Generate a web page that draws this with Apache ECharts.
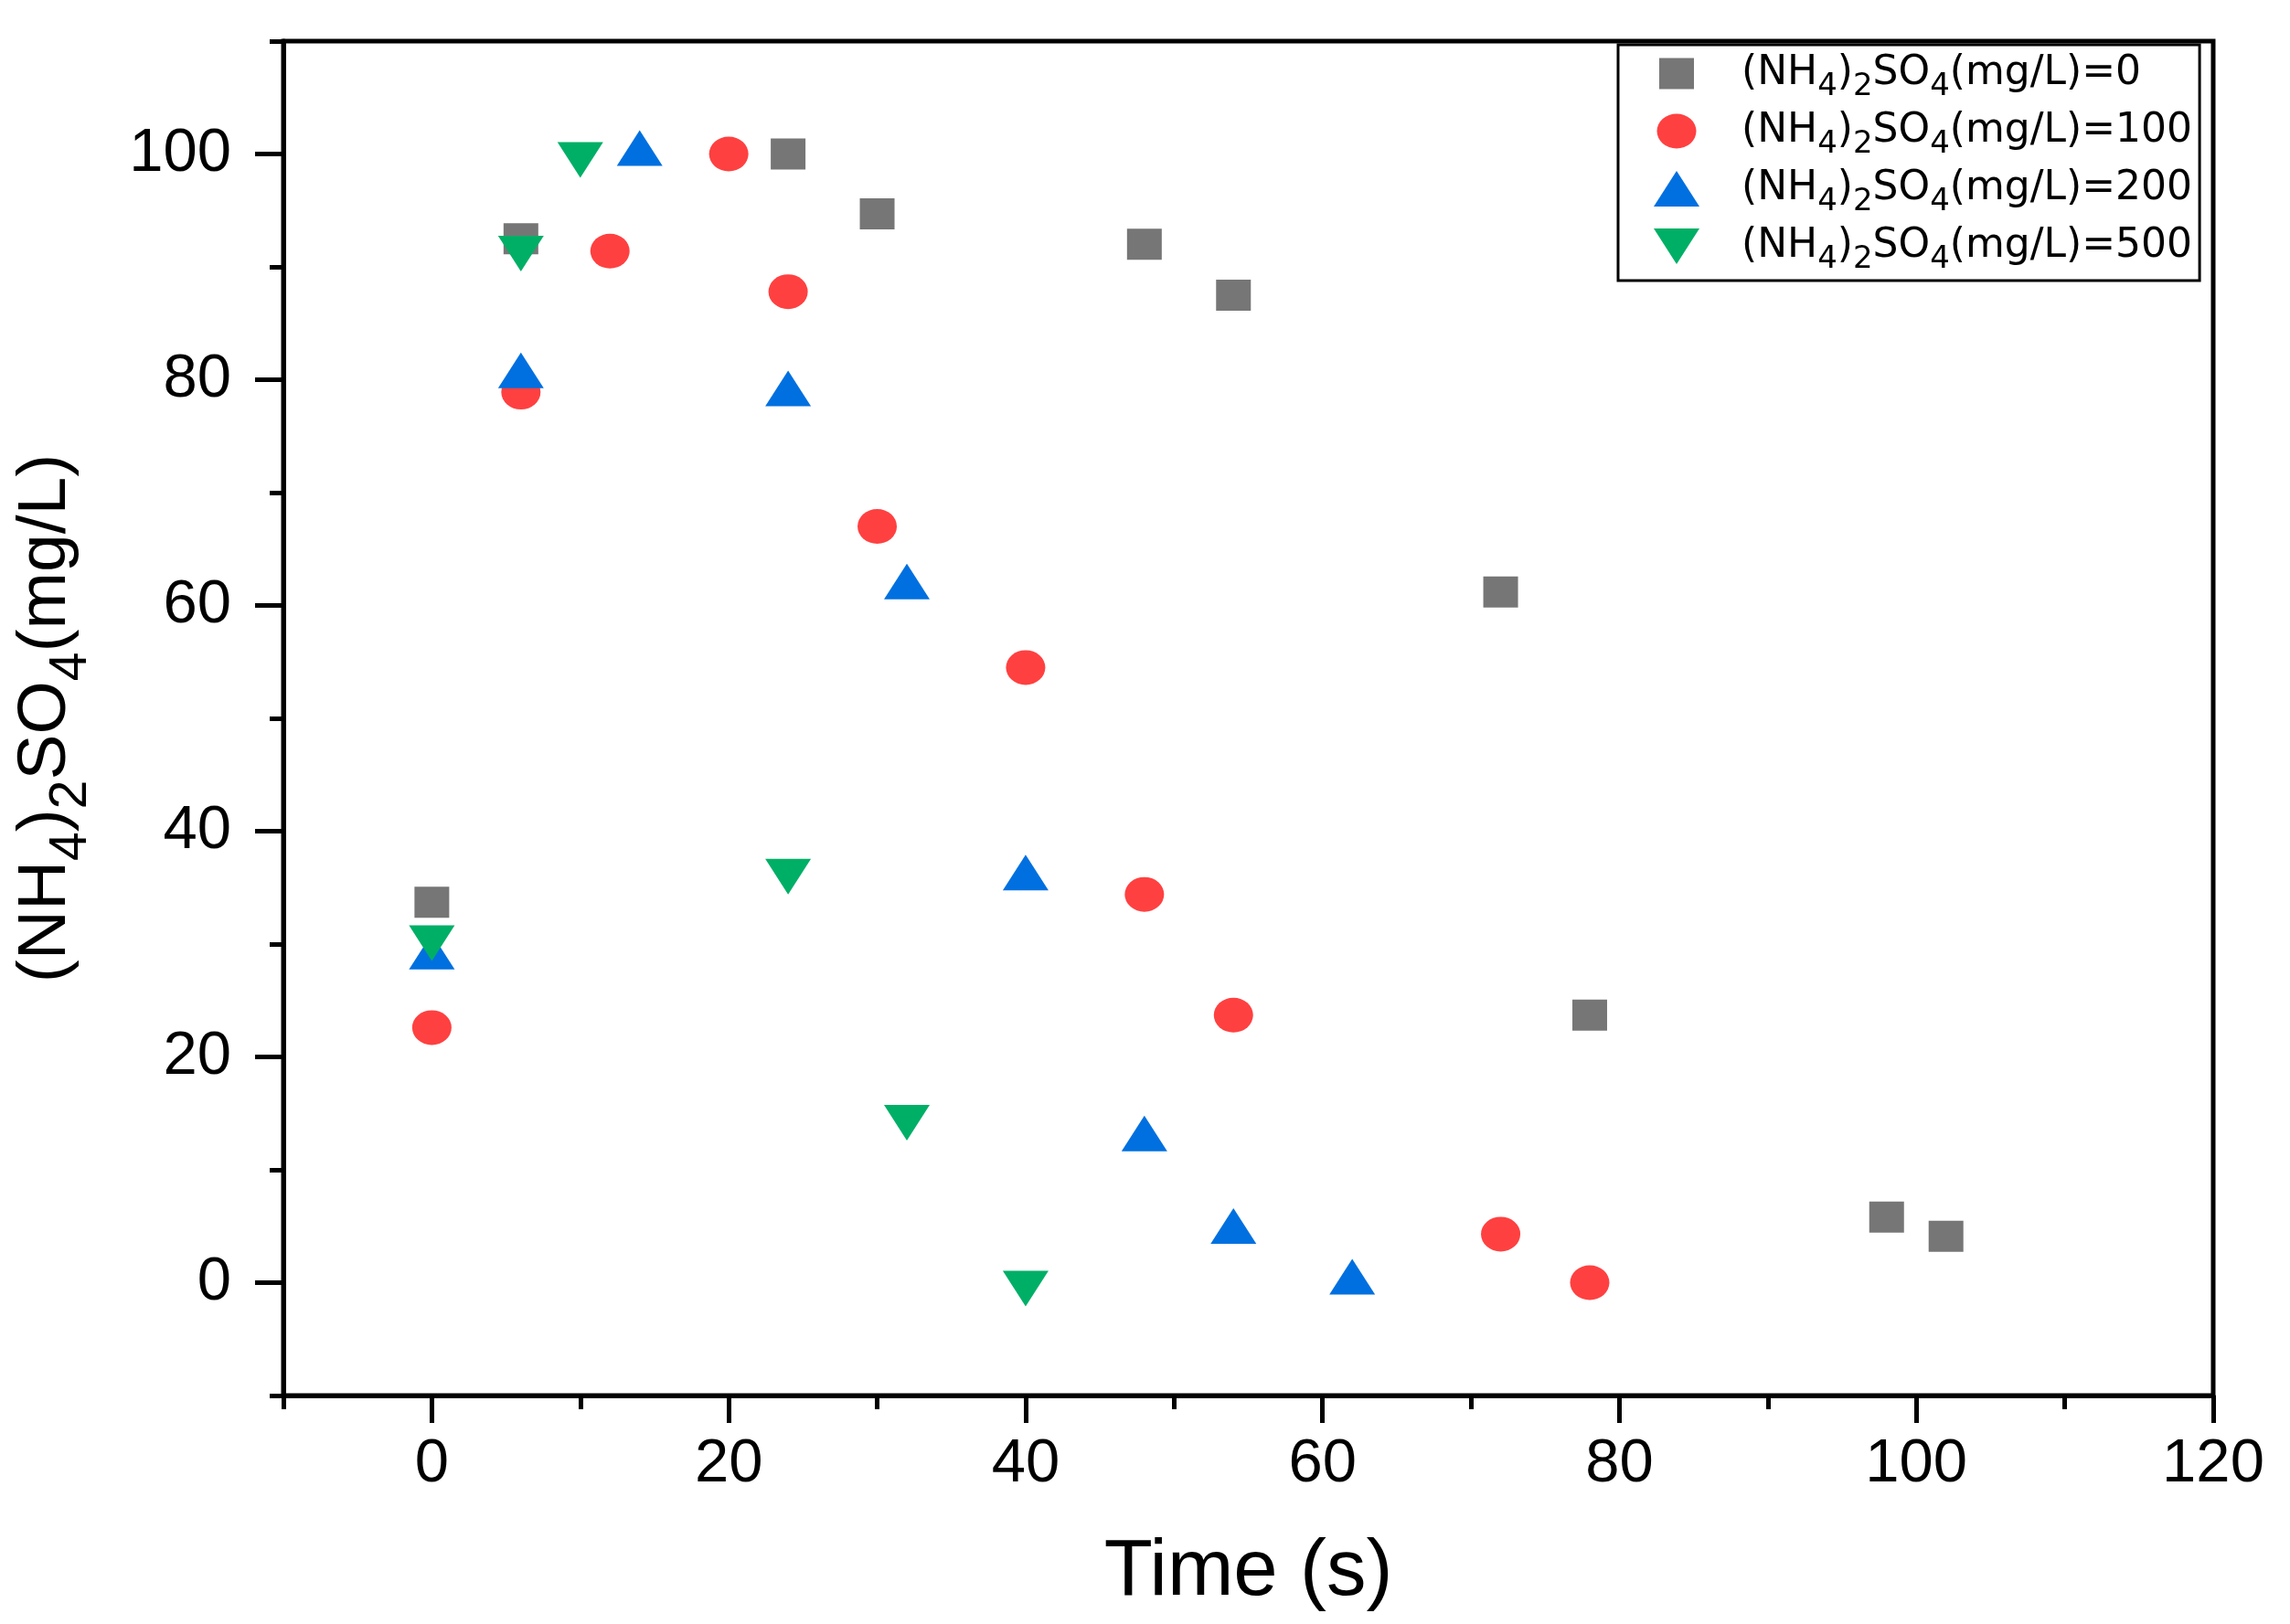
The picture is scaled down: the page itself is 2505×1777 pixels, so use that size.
<!DOCTYPE html>
<html>
<head>
<meta charset="utf-8">
<script src="https://cdn.jsdelivr.net/npm/echarts@6/dist/echarts.min.js"></script>
<style>
  html, body { margin: 0; padding: 0; background: #fff; }
  #chart { width: 2505px; height: 1777px; }
</style>
</head>
<body>
<div id="chart"></div>
<script>
// ---- data ----
const seriesNames = [
  '(NH4)2SO4(mg/L)=0',
  '(NH4)2SO4(mg/L)=100',
  '(NH4)2SO4(mg/L)=200',
  '(NH4)2SO4(mg/L)=500'
];
const time0 = [0, 6, 24, 30, 48, 54, 72, 78, 98, 102];
const conc0 = [33.7, 92.5, 100, 94.7, 92.0, 87.5, 61.2, 23.7, 5.8, 4.1];
const time100 = [0, 6, 12, 20, 24, 30, 40, 48, 54, 72, 78];
const conc100 = [22.6, 78.9, 91.4, 100, 87.8, 67.0, 54.5, 34.4, 23.7, 4.3, 0];
const time200 = [0, 6, 14, 24, 32, 40, 48, 54, 62];
const conc200 = [28.8, 80.3, 100, 78.7, 61.6, 35.8, 12.7, 4.5, 0];
const time500 = [0, 6, 10, 24, 32, 40];
const conc500 = [30.6, 91.7, 100, 36.5, 14.7, 0];
const xMajorTicks = [0, 20, 40, 60, 80, 100, 120];
const xMinorTicks = [-10, 10, 30, 50, 70, 90, 110];
const yMajorTicks = [0, 20, 40, 60, 80, 100];
const yMinorTicks = [-10, 10, 30, 50, 70, 90, 110];

// ---- styles ----
const colors = ['#767676', '#FF4040', '#0070E0', '#00AF66'];
const FONT = 'Liberation Sans, Arial, sans-serif';
const LFONT = 'DejaVu Sans, sans-serif';

function pairs(xs, ys) { return xs.map((x, i) => [x, ys[i]]); }

const ellipsePath = 'path://M0,19A21.5,19,0,1,1,43,19A21.5,19,0,1,1,0,19Z';
const downTriPath = 'path://M0,0L50,0L25,39Z';
const legendSquare = 'path://M0,0L0,0M50,39L50,39M6,2.5L44,2.5L44,36.5L6,36.5Z';
const legendEllipse = 'path://M0,0L0,0M50,39L50,39M3.5,19.5A21.5,19,0,1,1,46.5,19.5A21.5,19,0,1,1,3.5,19.5Z';

function richName(name) {
  const v = name.split('=')[1];
  return '{g|}(NH{s|4}){s|2}SO{s|4}(mg/L)=' + v;
}

const chart = echarts.init(document.getElementById('chart'), null, { renderer: 'canvas' });

const axisLineStyle = { color: '#000', width: 5 };

const option = {
  animation: false,
  backgroundColor: '#fff',
  grid: {
    left: 310, right: 84, top: 45, bottom: 250,
    containLabel: false,
    outerBoundsMode: 'none',
    show: true, borderColor: '#000', borderWidth: 5, backgroundColor: 'transparent'
  },
  legend: {
    orient: 'vertical',
    left: 1770, top: 49,
    padding: [0, 8, 6, 39],
    itemGap: 0,
    itemWidth: 50, itemHeight: 39,
    borderColor: '#000', borderWidth: 3,
    selectedMode: false,
    data: [
      { name: seriesNames[0], icon: legendSquare },
      { name: seriesNames[1], icon: legendEllipse },
      { name: seriesNames[2] },
      { name: seriesNames[3] }
    ],
    formatter: richName,
    textStyle: {
      fontFamily: LFONT, fontSize: 44, color: '#000', lineHeight: 39,
      rich: {
        g: { width: 41, lineHeight: 39 },
        s: { fontFamily: LFONT, fontSize: 34, lineHeight: 39, padding: [29, 0, 0, 0], color: '#000' }
      }
    }
  },
  xAxis: [
    {
      type: 'value', min: -10, max: 120, position: 'bottom',
      name: 'Time (s)', nameLocation: 'middle', nameGap: 151,
      nameTextStyle: { fontFamily: FONT, fontSize: 87, color: '#000' },
      axisLine: { show: true, onZero: false, lineStyle: axisLineStyle },
      axisTick: { show: true, inside: false, length: 30, lineStyle: { color: '#000', width: 5 }, customValues: xMajorTicks },
      axisLabel: { show: true, margin: 42, fontFamily: FONT, fontSize: 67, color: '#000', customValues: xMajorTicks },
      splitLine: { show: false }
    },
    {
      type: 'value', min: -10, max: 120, position: 'bottom',
      axisLine: { show: false, onZero: false },
      axisTick: { show: true, inside: false, length: 15, lineStyle: { color: '#000', width: 5 }, customValues: xMinorTicks },
      axisLabel: { show: false },
      splitLine: { show: false }
    }
  ],
  yAxis: [
    {
      type: 'value', min: -10, max: 110, position: 'left',
      name: '(NH{s|4}){s|2}SO{s|4}(mg/L)', nameLocation: 'middle', nameGap: 222,
      nameTextStyle: {
        fontFamily: FONT, fontSize: 75, lineHeight: 75, color: '#000',
        rich: { s: { fontFamily: FONT, fontSize: 57, lineHeight: 75, padding: [56, 0, 0, 0], color: '#000' } }
      },
      axisLine: { show: true, onZero: false, lineStyle: axisLineStyle },
      axisTick: { show: true, inside: false, length: 31, lineStyle: { color: '#000', width: 5 }, customValues: yMajorTicks },
      axisLabel: { show: true, margin: 57, fontFamily: FONT, fontSize: 67, color: '#000', customValues: yMajorTicks },
      splitLine: { show: false }
    },
    {
      type: 'value', min: -10, max: 110, position: 'left',
      axisLine: { show: false, onZero: false },
      axisTick: { show: true, inside: false, length: 15, lineStyle: { color: '#000', width: 5 }, customValues: yMinorTicks },
      axisLabel: { show: false },
      splitLine: { show: false }
    }
  ],
  series: [
    {
      name: seriesNames[0], type: 'scatter', xAxisIndex: 0, yAxisIndex: 0,
      symbol: 'rect', symbolSize: [38, 34],
      itemStyle: { color: colors[0], opacity: 1 },
      data: pairs(time0, conc0)
    },
    {
      name: seriesNames[1], type: 'scatter', xAxisIndex: 0, yAxisIndex: 0,
      symbol: ellipsePath, symbolSize: [43, 38],
      itemStyle: { color: colors[1], opacity: 1 },
      data: pairs(time100, conc100)
    },
    {
      name: seriesNames[2], type: 'scatter', xAxisIndex: 0, yAxisIndex: 0,
      symbol: 'triangle', symbolSize: [50, 39], symbolOffset: [0, -6.5],
      itemStyle: { color: colors[2], opacity: 1 },
      data: pairs(time200, conc200)
    },
    {
      name: seriesNames[3], type: 'scatter', xAxisIndex: 0, yAxisIndex: 0,
      symbol: downTriPath, symbolSize: [50, 39], symbolOffset: [0, 6.5],
      itemStyle: { color: colors[3], opacity: 1 },
      data: pairs(time500, conc500)
    }
  ]
};
chart.setOption(option);
</script>
</body>
</html>
